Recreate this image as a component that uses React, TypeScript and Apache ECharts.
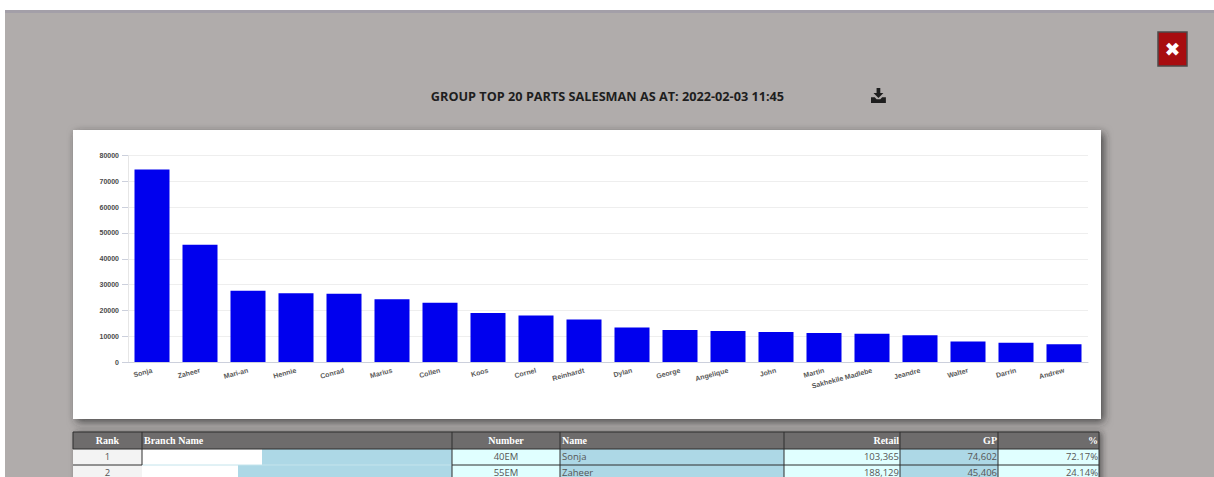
import React, { useEffect, useRef } from "react";
import * as echarts from "echarts";

const names = ["Sonja", "Zaheer", "Mari-an", "Hennie", "Conrad", "Marius", "Collen", "Koos", "Cornel", "Reinhardt", "Dylan", "George", "Angelique", "John", "Martin", "Sakhekile Madlebe", "Jeandre", "Walter", "Darrin", "Andrew"];
const gp = [74602, 45406, 27600, 26600, 26400, 24300, 23000, 19000, 18000, 16500, 13400, 12400, 12000, 11600, 11200, 10900, 10400, 7900, 7500, 6900];

const columnEdges = [73, 142, 452, 560, 784, 900, 998, 1099];
const headers = ["Rank", "Branch Name", "Number", "Name", "Retail", "GP", "%"];
const headerAlign = ["center", "left", "center", "left", "right", "right", "right"];
const rows = [
  ["1", "", "40EM", "Sonja", "103,365", "74,602", "72.17%"],
  ["2", "", "55EM", "Zaheer", "188,129", "45,406", "24.14%"],
];
const branchBlankEnds = [262, 238];
const rowTops = [449, 465];
const rowHeight = 16;
const cellFills = ["#f3f3f3", "#add8e6", "#e0ffff", "#add8e6", "#e0ffff", "#add8e6", "#e0ffff"];

const title = "GROUP TOP 20 PARTS SALESMAN AS AT: 2022-02-03 11:45";
const downloadIcon = "M9 0h6v8h5l-8 8-8-8h5zM0 15h6l3 3h6l3-3h6v9H0z";

function textX(i: number, align: string) {
  const l = columnEdges[i];
  const r = columnEdges[i + 1];
  if (align === "center") return (l + r) / 2;
  return align === "left" ? l + 2 : r - 1;
}

function tableElements() {
  const out: any[] = [];
  // Header band
  out.push({ type: "rect", shape: { x: 73, y: 432, width: 1026, height: 17 }, style: { fill: "#6e6c6c" }, z: 3 });
  headers.forEach((h, i) => {
    out.push({
      type: "text", x: textX(i, headerAlign[i]), y: 440.5, z: 6,
      style: { text: h, fill: "#ffffff", font: "bold 10px 'Liberation Serif', serif", align: headerAlign[i], verticalAlign: "middle" },
    });
  });
  // Body rows
  rows.forEach((row, r) => {
    const top = rowTops[r];
    row.forEach((cell, i) => {
      const align = i === 0 || i === 2 ? "center" : i >= 4 ? "right" : "left";
      out.push({ type: "rect", shape: { x: columnEdges[i], y: top, width: columnEdges[i + 1] - columnEdges[i], height: rowHeight }, style: { fill: cellFills[i] }, z: 3 });
      if (cell) {
        out.push({
          type: "text", x: textX(i, align), y: top + 7, z: 6,
          style: { text: cell, fill: "#555555", font: "9.5px 'Open Sans', sans-serif", align, verticalAlign: "middle" },
        });
      }
    });
    out.push({ type: "rect", shape: { x: 142, y: top, width: branchBlankEnds[r] - 142, height: rowHeight }, style: { fill: "#ffffff" }, z: 4 });
  });
  // Cell borders: the branch column has only a pale rule under its first row
  const line = (x1: number, y1: number, x2: number, y2: number, stroke = "#2f2f2f") => ({
    type: "line", shape: { x1, y1, x2, y2 }, style: { stroke, lineWidth: 1 }, z: 5,
  });
  out.push(
    line(73, 432, 1099, 432),
    line(73, 449, 1099, 449),
    line(73, 465, 142, 465),
    line(142, 465, 452, 465, "#c4e4ec"),
    line(452, 465, 1099, 465),
  );
  columnEdges.forEach((x) => {
    const bottom = x === 73 ? 449 : x === 142 ? 465 : 477;
    out.push(line(x, 432, x, bottom));
  });
  return out;
}

export default function App() {
  const ref = useRef<HTMLDivElement>(null);
  useEffect(() => {
    if (!ref.current) return;
    echarts.graphic.registerShape("downloadGlyph", echarts.graphic.extendPath(downloadIcon, {}) as any);
    const chart = echarts.init(ref.current, undefined, { renderer: "svg" });
    chart.setOption({
      animation: false,
      backgroundColor: "#ffffff",
      grid: { left: 128, right: 126, top: 155.5, bottom: 115, containLabel: false },
      xAxis: {
        type: "category",
        data: names,
        axisTick: { show: false },
        axisLine: { lineStyle: { color: "#ccd0dc", width: 1 } },
        axisLabel: { interval: 0, rotate: 15, fontSize: 7, color: "#5a5a5a", fontFamily: "'Liberation Sans', sans-serif", fontWeight: "bold", margin: 8 },
      },
      yAxis: {
        type: "value",
        min: 0,
        max: 80000,
        interval: 10000,
        axisLine: { show: true, lineStyle: { color: "#e6e6e6" } },
        axisTick: { show: true, length: 6, lineStyle: { color: "#ccd0dc" } },
        axisLabel: { fontSize: 7, color: "#4a4a4a", fontFamily: "'Liberation Sans', sans-serif", fontWeight: "bold", margin: 9, formatter: (v: number) => String(v) },
        splitLine: { lineStyle: { color: "#eeeeee", width: 1 } },
      },
      series: [{ type: "bar", data: gp, barWidth: 35, itemStyle: { color: "#0000ee" }, z: 5 }],
      graphic: [
        // Dimmed overlay behind the dialog
        { type: "rect", z: -20, shape: { x: 5, y: 10, width: 1209, height: 467 }, style: { fill: "#b0acab" } },
        { type: "rect", z: -19, shape: { x: 5, y: 10, width: 1209, height: 3 }, style: { fill: "#a39fa8" } },
        // White card holding the bars
        { type: "rect", z: -10, shape: { x: 73, y: 130, width: 1028, height: 289 }, style: { fill: "#ffffff", shadowBlur: 8, shadowColor: "rgba(40,40,40,0.75)", shadowOffsetX: 3, shadowOffsetY: 3 } },
        {
          type: "text", x: 607.5, y: 96, z: 6,
          style: { text: title, fill: "#1e1e1e", font: "bold 12.7px 'Open Sans', sans-serif", align: "center", verticalAlign: "middle" },
        },
        { type: "downloadGlyph", x: 871, y: 88, scaleX: 0.62, scaleY: 0.62, z: 6, style: { fill: "#1e1e1e" } },
        { type: "rect", z: 6, shape: { x: 1158, y: 32, width: 29, height: 34 }, style: { fill: "#a80d10", stroke: "#4c4a4a", lineWidth: 1.5 } },
        {
          type: "text", x: 1172.5, y: 49, z: 7,
          style: { text: "✖", fill: "#ffffff", font: "bold 19px 'DejaVu Sans', sans-serif", align: "center", verticalAlign: "middle" },
        },
        { type: "rect", z: 2, shape: { x: 73, y: 432, width: 1026, height: 60 }, style: { fill: "#6e6c6c", shadowBlur: 6, shadowColor: "rgba(40,40,40,0.6)", shadowOffsetX: 3, shadowOffsetY: 0 } },
        ...tableElements(),
      ],
    });
    return () => chart.dispose();
  }, []);
  return <div ref={ref} style={{ position: "fixed", left: 0, top: 0, width: 1214, height: 477 }} />;
}
